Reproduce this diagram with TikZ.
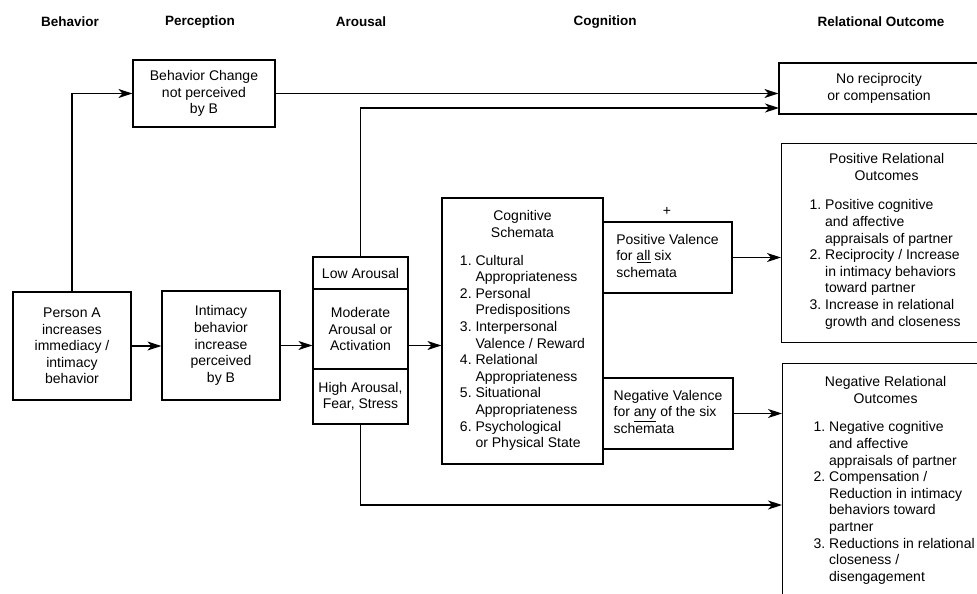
\documentclass[tikz,border=0pt]{standalone}
\usepackage{fontspec}
\setmainfont{Liberation Sans}
\usetikzlibrary{arrows.meta,calc}
\begin{document}
\begin{tikzpicture}[x=1pt,y=-1pt,
  every node/.style={font=\fontsize{14}{16.6}\selectfont},
  box/.style={draw, line width=1.2pt, inner sep=0pt, align=center},
  head/.style={font=\fontsize{13.5}{16}\selectfont\bfseries},
  arr/.style={line width=1.2pt, -{Stealth[length=14pt,width=9pt,inset=4pt]}},
  ln/.style={line width=1.2pt}]
\useasboundingbox (0,0) rectangle (977,594);
\clip (0,0) rectangle (977,594);
% headers
\node[head] (hBeh) at (70,22) {Behavior};
\node[head] (hPer) at (200,22) {Perception};
\node[head] (hAro) at (361,22) {Arousal};
\node[head] (hCog) at (605,22) {Cognition};
\node[head] (hRel) at (881,22) {Relational Outcome};
% boxes
\node[box, minimum width=142pt, minimum height=67pt] (bc) at (204,93.5) {Behavior Change\\not perceived\\by B};
\node[box, minimum width=118pt, minimum height=108pt] (pa) at (72,346) {Person A\\increases\\immediacy /\\intimacy\\behavior};
\node[box, minimum width=118pt, minimum height=109pt] (ib) at (221,345.5) {Intimacy\\behavior\\increase\\perceived\\by B};
\node[box, minimum width=95pt, minimum height=32pt] (low) at (360.5,273) {Low Arousal};
\node[box, minimum width=95pt, minimum height=80pt] (mod) at (360.5,329) {Moderate\\Arousal or\\Activation};
\node[box, minimum width=95pt, minimum height=55pt] (high) at (360.5,396.5) {High Arousal,\\Fear, Stress};
\node[box, minimum width=161pt, minimum height=266pt] (cs) at (522.5,331)
  {\begin{tabular}{@{}c@{}}Cognitive\\Schemata\end{tabular}\\[10pt]
   \begin{tabular}{@{}l@{}}1.~Cultural\\\phantom{1.~}Appropriateness\\
   2.~Personal\\\phantom{2.~}Predispositions\\
   3.~Interpersonal\\\phantom{3.~}Valence / Reward\\
   4.~Relational\\\phantom{4.~}Appropriateness\\
   5.~Situational\\\phantom{5.~}Appropriateness\\
   6.~Psychological\\\phantom{6.~}or Physical State\end{tabular}};
\node[box, minimum width=129pt, minimum height=71pt] (pv) at (667.5,257.5)
  {\begin{tabular}{@{}l@{}}Positive Valence\\for \underline{all} six\\schemata\end{tabular}};
\node[box, minimum width=130pt, minimum height=71pt] (nv) at (668,413.5)
  {\begin{tabular}{@{}l@{}}Negative Valence\\for \underline{any} of the six\\schemata\end{tabular}};
\node (plus) at (667,211) {+};
\node[box, minimum width=200pt, minimum height=51pt] (nr) at (879,88.5) {No reciprocity\\or compensation};
\node[box, anchor=north west, inner xsep=28pt, inner ysep=10pt, align=left] (pr) at (781,143)
  {\parbox[c][179pt][t]{170pt}{\makebox[154pt]{Positive Relational}\\\makebox[154pt]{Outcomes}\\[13pt]
   1.~Positive cognitive\\\phantom{1.~}and affective\\\phantom{1.~}appraisals of partner\\
   2.~Reciprocity / Increase\\\phantom{2.~}in intimacy behaviors\\\phantom{2.~}toward partner\\
   3.~Increase in relational\\\phantom{3.~}growth and closeness}};
\node[box, anchor=north west, inner xsep=31pt, inner ysep=13pt, align=left] (nrel) at (782,363)
  {\parbox[c][240pt][t]{175pt}{\makebox[144pt]{Negative Relational}\\\makebox[144pt]{Outcomes}\\[12pt]
   1.~Negative cognitive\\\phantom{1.~}and affective\\\phantom{1.~}appraisals of partner\\
   2.~Compensation /\\\phantom{2.~}Reduction in intimacy\\\phantom{2.~}behaviors toward\\\phantom{2.~}partner\\
   3.~Reductions in relational\\\phantom{3.~}closeness /\\\phantom{3.~}disengagement}};
% connector ends
\coordinate (nrA) at (779,108);
\coordinate (nrelB) at (782,505);
% connectors
\draw[arr] (pa.north) |- (bc.west);
\draw[arr] (bc.east) -- (bc.east -| nr.west);
\draw[arr] (low.north) |- (nrA);
\draw[arr] (pa.east) -- (pa.east -| ib.west);
\draw[arr] (ib.east) -- (ib.east -| mod.west);
\draw[arr] (mod.east |- ib.east) -- (ib.east -| cs.west);
\draw[arr] (pv.east) -- (pv.east -| pr.west);
\draw[arr] (nv.east) -- (nv.east -| nrel.west);
\draw[arr] (high.south) |- (nrelB);
\end{tikzpicture}
\end{document}
